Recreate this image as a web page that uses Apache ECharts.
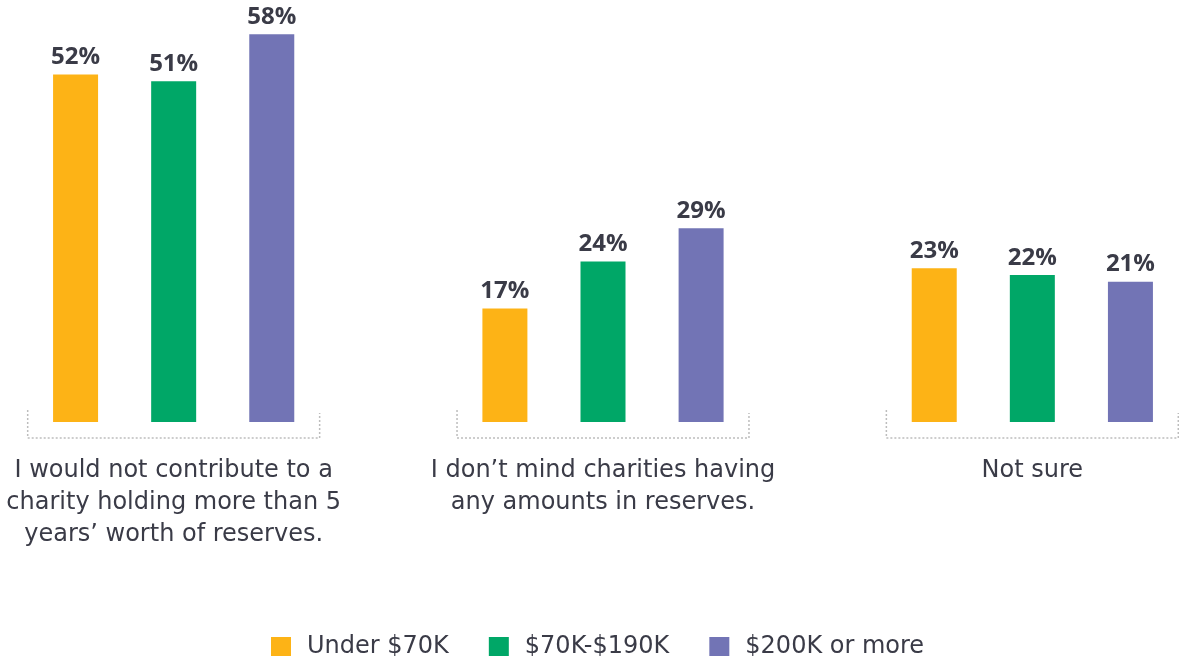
<!DOCTYPE html>
<html>
<head>
<meta charset="utf-8">
<script src="https://cdn.jsdelivr.net/npm/echarts@6/dist/echarts.min.js"></script>
<style>
  html, body { margin: 0; padding: 0; background: #fff; }
  #bar { width: 1179px; height: 656px; }
</style>
</head>
<body>
<div id="bar"></div>
<script>
// categories + series values (percent)
var categories = [
  "I would not contribute to a\ncharity holding more than 5\nyears\u2019 worth of reserves.",
  "I don\u2019t mind charities having\nany amounts in reserves.",
  "Not sure",
];
var seriesNames = ["Under $70K", "$70K-$190K", "$200K or more"];
var under70 = [52, 17, 23];
var mid70to190 = [51, 24, 22];
var over200 = [58, 29, 21];

var colors = ["#FDB316", "#00A767", "#7274B5"];
var textColor = "#3A3B47";
var fontName = "'DejaVu Sans', sans-serif";
var labelFont = "'Open Sans', sans-serif";

var myChart = echarts.init(document.getElementById("bar"));

function barSeries(name, data, color) {
  return {
    name: name,
    type: "bar",
    data: data,
    barWidth: 45,
    barGap: "118%",
    itemStyle: { color: color },
    label: {
      show: true,
      position: "top",
      distance: 5,
      formatter: "{c}%",
      color: textColor,
      fontSize: 24,
      fontWeight: "bold",
      fontFamily: labelFont,
    },
  };
}

// dotted bracket under each group
function bracket(params, api) {
  var c = api.coord([api.value(0), 0]);
  var w = api.size([1, 0])[0];
  var hw = w * 0.34;
  return {
    type: "polyline",
    shape: {
      points: [
        [c[0] - hw, c[1] - 12],
        [c[0] - hw, c[1] + 16],
        [c[0] + hw, c[1] + 16],
        [c[0] + hw, c[1] - 9],
      ],
    },
    style: {
      stroke: "#BDBDBD",
      fill: null,
      lineWidth: 1.5,
      lineDash: [2, 2],
    },
  };
}

let barOptions = {
  animation: false,
  textStyle: { fontFamily: fontName },
  grid: {
    left: -41,
    width: 1288,
    top: 21,
    bottom: 234,
    outerBoundsMode: "none",
    containLabel: false,
  },
  legend: {
    data: seriesNames,
    top: 630,
    left: 266,
    icon: "rect",
    itemWidth: 20,
    itemHeight: 20,
    itemGap: 40,
    textStyle: {
      color: textColor,
      fontSize: 24,
      fontFamily: fontName,
      padding: [0, 0, 0, 11],
    },
  },
  xAxis: {
    type: "category",
    data: categories,
    axisLine: { show: false },
    axisTick: { show: false },
    axisLabel: {
      interval: 0,
      margin: 33,
      verticalAlign: "top",
      color: textColor,
      fontSize: 24,
      lineHeight: 32,
      fontFamily: fontName,
    },
  },
  yAxis: {
    type: "value",
    min: 0,
    max: 60,
    show: false,
  },
  series: [
    barSeries(seriesNames[0], under70, colors[0]),
    barSeries(seriesNames[1], mid70to190, colors[1]),
    barSeries(seriesNames[2], over200, colors[2]),
    {
      type: "custom",
      renderItem: bracket,
      clip: false,
      silent: true,
      data: [[0], [1], [2]],
    },
  ],
};
myChart.setOption(barOptions);
</script>
</body>
</html>
